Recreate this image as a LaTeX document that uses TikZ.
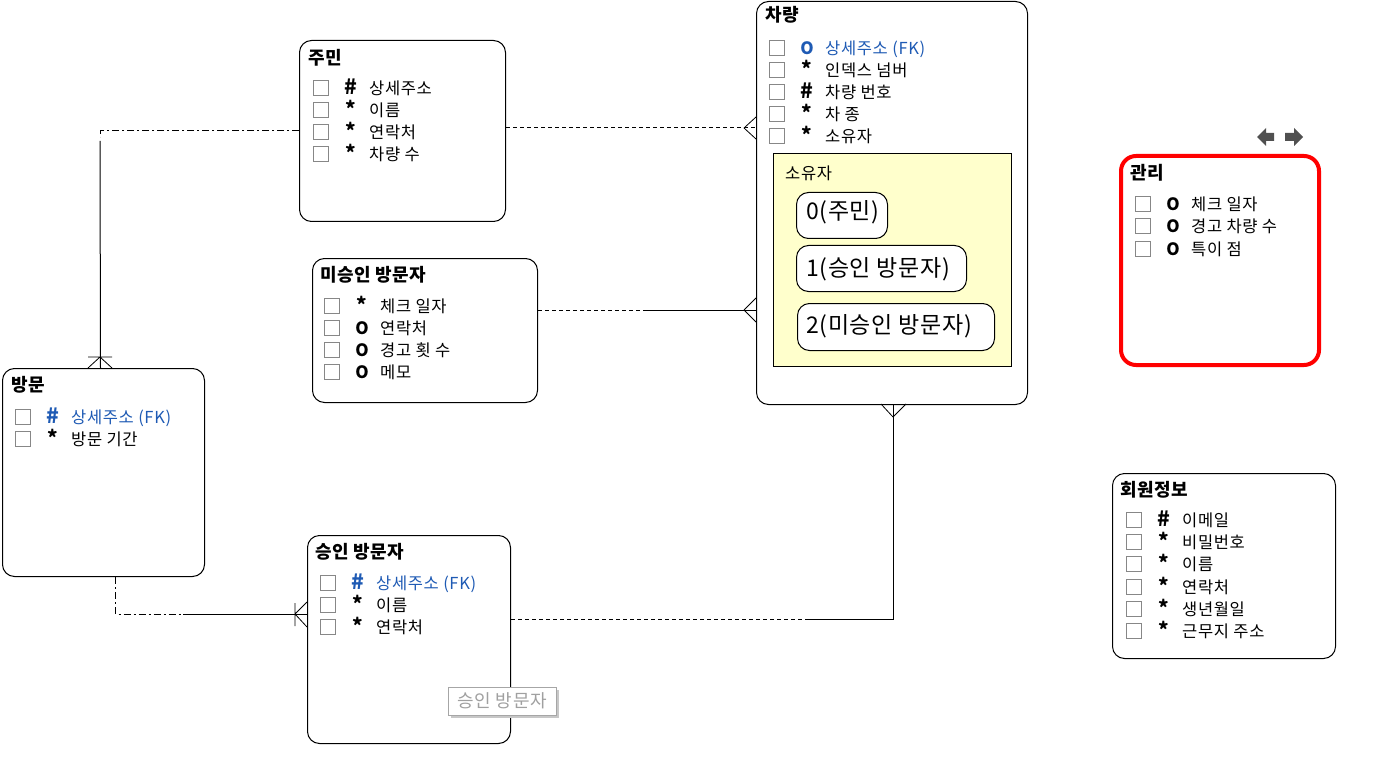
\documentclass[tikz,border=0pt]{standalone}
\usepackage{fontspec}
\setmainfont{Noto Sans CJK KR}
\definecolor{fkblue}{RGB}{30,90,180}
\definecolor{cbgray}{RGB}{135,135,135}
\definecolor{ownyellow}{RGB}{255,255,204}
\definecolor{arrgray}{RGB}{80,80,80}
\definecolor{tipgray}{RGB}{160,160,160}
\newcommand\symH{{\fontsize{21}{21}\bfseries\#}}
\newcommand\symS{{\fontsize{20}{20}\bfseries *}}
\newcommand\symO{{\fontsize{17}{17}\bfseries O}}
\newcommand\attrrow[5]{%
  \draw[cbox] (#1,#2-7.5) rectangle (#1+15,#2+7.5);
  \node[sym, text=#5] at (#1+38,#2+6.5) {#3};
  \node[attr, text=#5] at (#1+56,#2+6.5) {#4};
}
\begin{document}
\begin{tikzpicture}[x=1pt,y=-1pt,
 entity/.style={draw, line width=1pt, rounded corners=12pt, anchor=north west, inner sep=0pt, fill=white},
 etitle/.style={anchor=base west, inner sep=0pt, font=\fontsize{18}{20}\bfseries\addfontfeatures{LetterSpace=3}},
 attr/.style={anchor=base west, inner sep=0pt, font=\fontsize{16.5}{18}\selectfont\addfontfeatures{LetterSpace=4}},
 sym/.style={anchor=base, inner sep=0pt},
 cbox/.style={draw=cbgray, line width=1pt},
 rel/.style={line width=1pt},
 reldash/.style={line width=1pt, dash pattern=on 4pt off 3pt},
 reldd/.style={line width=1pt, dash pattern=on 7pt off 3pt on 2pt off 3pt},
 crow/.style={line width=0.8pt},
 ownbox/.style={draw, line width=1pt, rounded corners=12pt, anchor=north west, inner sep=0pt, fill=white},
 owntext/.style={anchor=base west, inner sep=0pt, font=\fontsize{23}{26}\selectfont\addfontfeatures{LetterSpace=3}},
]
\useasboundingbox (0,0) rectangle (1396,767);
\fill[white] (0,0) rectangle (1396,767);

% entities
\node[entity, minimum width=206pt, minimum height=181pt] (jumin) at (299,40) {};
\node[entity, minimum width=271pt, minimum height=403pt] (car) at (756,1) {};
\node[entity, minimum width=225pt, minimum height=144pt] (miseung) at (312,258) {};
\node[entity, minimum width=202pt, minimum height=208pt] (bangmun) at (2,368) {};
\node[entity, minimum width=203pt, minimum height=208pt] (seungin) at (307,535) {};
\node[entity, draw=red, line width=4pt, rounded corners=15pt, minimum width=198pt, minimum height=209pt] (gwanli) at (1119,154) {};
\node[entity, minimum width=223pt, minimum height=185pt] (member) at (1112,473) {};

% titles
\node[etitle] at (308,65) {주민};
\node[etitle] at (765,22) {차량};
\node[etitle] at (320,281) {미승인 방문자};
\node[etitle] at (11,391) {방문};
\node[etitle] at (315,558) {승인 방문자};
\node[etitle] at (1130,180) {관리};
\node[etitle] at (1120,496) {회원정보};

% 주민
\attrrow{313}{88}{\symH}{상세주소}{black}
\attrrow{313}{110}{\symS}{이름}{black}
\attrrow{313}{132}{\symS}{연락처}{black}
\attrrow{313}{154}{\symS}{차량 수}{black}
% 차량
\attrrow{769}{48}{\symO}{상세주소 (FK)}{fkblue}
\attrrow{769}{70}{\symS}{인덱스 넘버}{black}
\attrrow{769}{92}{\symH}{차량 번호}{black}
\attrrow{769}{114}{\symS}{차 종}{black}
\attrrow{769}{136}{\symS}{소유자}{black}
% 소유자 domain
\node[draw, line width=1pt, fill=ownyellow, anchor=north west, inner sep=0pt, minimum width=238pt, minimum height=213pt] (owner) at (773,153) {};
\node[attr] at (785,180) {소유자};
\node[ownbox, minimum width=91pt, minimum height=46pt] (o0) at (796,192) {};
\node[owntext] at (806,220) {0(주민)};
\node[ownbox, minimum width=170pt, minimum height=46pt] (o1) at (796,245) {};
\node[owntext] at (806,276) {1(승인 방문자)};
\node[ownbox, minimum width=197pt, minimum height=47pt] (o2) at (797,303) {};
\node[owntext] at (806,333) {2(미승인 방문자)};
% 미승인 방문자
\attrrow{324}{306}{\symS}{체크 일자}{black}
\attrrow{324}{328}{\symO}{연락처}{black}
\attrrow{324}{350}{\symO}{경고 횟 수}{black}
\attrrow{324}{372}{\symO}{메모}{black}
% 방문
\attrrow{15}{417}{\symH}{상세주소 (FK)}{fkblue}
\attrrow{15}{439}{\symS}{방문 기간}{black}
% 승인 방문자
\attrrow{320}{583}{\symH}{상세주소 (FK)}{fkblue}
\attrrow{320}{605}{\symS}{이름}{black}
\attrrow{320}{627}{\symS}{연락처}{black}
% 관리
\attrrow{1135}{204}{\symO}{체크 일자}{black}
\attrrow{1135}{226}{\symO}{경고 차량 수}{black}
\attrrow{1135}{249}{\symO}{특이 점}{black}
% 회원정보
\attrrow{1126}{520}{\symH}{이메일}{black}
\attrrow{1126}{542}{\symS}{비밀번호}{black}
\attrrow{1126}{564}{\symS}{이름}{black}
\attrrow{1126}{587}{\symS}{연락처}{black}
\attrrow{1126}{609}{\symS}{생년월일}{black}
\attrrow{1126}{631}{\symS}{근무지 주소}{black}

% arrows icons above 관리
\fill[arrgray] (1257,137) -- (1266,128) -- (1266,133) -- (1274,133) -- (1274,141) -- (1266,141) -- (1266,146) -- cycle;
\fill[arrgray] (1303,137) -- (1294,128) -- (1294,133) -- (1285,133) -- (1285,141) -- (1294,141) -- (1294,146) -- cycle;

% connectors
% 주민 -> 차량
\draw[reldash] (jumin.east |- 0,128) -- (car.west |- 0,128);
\draw[crow] (744,128) -- (car.west |- 0,117) (744,128) -- (car.west |- 0,139);
% 미승인 -> 차량
\draw[reldash] (miseung.east |- 0,310) -- (646,310);
\draw[rel] (646,310) -- (car.west |- 0,310);
\draw[crow] (744,310) -- (car.west |- 0,298) (744,310) -- (car.west |- 0,322);
% 승인 -> 차량
\draw[reldash] (seungin.east |- 0,619) -- (808,619);
\draw[rel] (808,619) -| ([xshift=1.5pt]car.south);
\draw[crow] (893,417) -- (881,404) (893,417) -- (906,404);
% 방문 -> 승인
\draw[reldd] ([xshift=12pt]bangmun.south) |- (183,614);
\draw[rel] (183,614) -- (seungin.west |- 0,614);
\draw[crow] (295,603) -- (295,626) (295,614) -- (seungin.west |- 0,602) (295,614) -- (seungin.west |- 0,627);
% 주민 -> 방문
\draw[reldd] (jumin.west |- 0,131) -- (100,131) -- (100,137);
\draw[rel] (100,141) -- ([xshift=-3pt]bangmun.north);
\draw[crow] (88,357) -- (112,357) (100,357) -- (88,368) (100,357) -- (112,368);

% tooltip
\fill[black!22] (451,690) rectangle (559,718);
\node[draw=black!35, fill=white, anchor=north west, inner sep=0pt, minimum width=108pt, minimum height=28pt] (tip) at (448,687) {};
\node[text=tipgray, inner sep=0pt, font=\fontsize{18}{20}\selectfont\addfontfeatures{LetterSpace=3}] at (tip.center) {승인 방문자};
\end{tikzpicture}
\end{document}
